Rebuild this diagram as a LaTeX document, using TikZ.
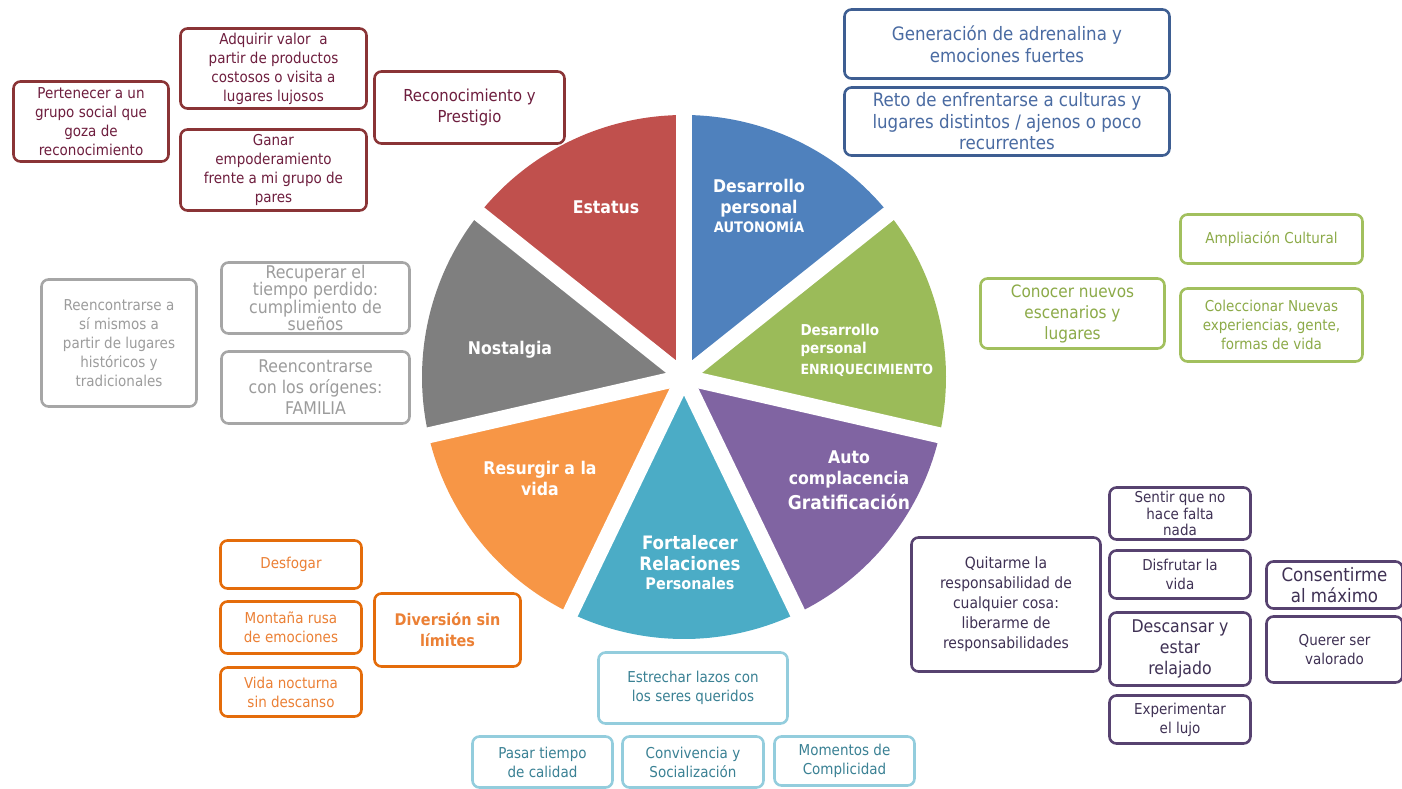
\documentclass[tikz,border=0pt]{standalone}
\usepackage{fontspec}
\setmainfont{DejaVu Sans Condensed}
\usepackage{xcolor}
\usetikzlibrary{positioning}

\definecolor{estred}{HTML}{C0504D}
\definecolor{estline}{HTML}{8A3436}
\definecolor{esttext}{HTML}{6E1E3E}
\definecolor{autblue}{HTML}{4F81BD}
\definecolor{autline}{HTML}{3E5E92}
\definecolor{auttext}{HTML}{4A6BA2}
\definecolor{enrgreen}{HTML}{9BBB59}
\definecolor{enrline}{HTML}{A2C05E}
\definecolor{enrtext}{HTML}{8CAA48}
\definecolor{gratpurple}{HTML}{8064A2}
\definecolor{gratline}{HTML}{574270}
\definecolor{grattext}{HTML}{3F3154}
\definecolor{relcyan}{HTML}{4BACC6}
\definecolor{relline}{HTML}{93CDDD}
\definecolor{reltext}{HTML}{3A8194}
\definecolor{vidaorange}{HTML}{F79646}
\definecolor{vidaline}{HTML}{E46C0A}
\definecolor{vidatext}{HTML}{EB8035}
\definecolor{nosgray}{HTML}{7F7F7F}
\definecolor{nosline}{HTML}{A6A6A6}
\definecolor{nostext}{HTML}{9C9C9C}

\begin{document}
\begin{tikzpicture}[x=1pt, y=-1pt,
  slice/.style={text=white, align=center, font=\bfseries\fontsize{17.5}{21}\selectfont},
  bx/.style={draw=#1, fill=white, rounded corners=7pt, line width=2.6pt, align=center, inner sep=1pt},
  small/.style={font=\fontsize{15}{19}\selectfont},
  big/.style={font=\fontsize{18}{22}\selectfont},
  estbox/.style={bx=estline, text=esttext},
  autbox/.style={bx=autline, text=auttext},
  enrbox/.style={bx=enrline, text=enrtext},
  nosbox/.style={bx=nosline, text=nostext},
  vidabox/.style={bx=vidaline, text=vidatext},
  relbox/.style={bx=relline, text=reltext},
  gratbox/.style={bx=gratline, text=grattext}]
\useasboundingbox (0,0) rectangle (1402,788);

% Pie of motivations
\coordinate (pc) at (684,377);
\foreach \a/\b/\col in {90/141.43/estred, 141.43/192.86/nosgray, 192.86/244.29/vidaorange,
    244.29/295.71/relcyan, 295.71/347.14/gratpurple, 347.14/398.57/enrgreen, 38.57/90/autblue}
  \fill[\col] (pc) -- ++(-\a:262) arc[start angle=-\a, end angle=-\b, radius=262] -- cycle;
% gaps between the slices
\foreach \a in {90,141.43,192.86,244.29,295.71,347.14,38.57}
  \draw[white, line width=16pt] (pc) -- ++(-\a:275);

% Slice labels
\node[slice] (estatus) at (606,207) {Estatus};
\node[slice] (autonomia) at (759,206) {Desarrollo\\personal\\[-2pt]{\fontsize{14.5}{15}\selectfont AUTONOMÍA}};
\node[slice, align=left, anchor=west, font=\bfseries\fontsize{15}{18}\selectfont] (enriq) at (797,350)
  {Desarrollo\\personal\\[3pt]{\fontsize{14}{15}\selectfont ENRIQUECIMIENTO}};
\node[slice] (gratif) at (849,480) {Auto\\complacencia\\[4pt]{\fontsize{19}{22}\selectfont Gratificación}};
\node[slice, font=\bfseries\fontsize{18.5}{21}\selectfont] (relac) at (690,563)
  {Fortalecer\\Relaciones\\[-2pt]{\fontsize{16}{17}\selectfont Personales}};
\node[slice] (resurgir) at (540,478) {Resurgir a la\\vida};
\node[slice] (nostalgia) at (510,350) {Nostalgia};

% Estatus
\node[estbox, small, minimum width=155, minimum height=80] (pert) at (91,121.5)
  {Pertenecer a un\\grupo social que\\goza de\\reconocimiento};
\node[estbox, small, minimum width=186, minimum height=80] (adq) at (273.5,68.5)
  {Adquirir valor\ \ a\\partir de productos\\costosos o visita a\\lugares lujosos};
\node[estbox, small, minimum width=186, minimum height=81] (ganar) at (273.5,170)
  {Ganar\\empoderamiento\\frente a mi grupo de\\pares};
\node[estbox, font=\fontsize{16.5}{21}\selectfont, minimum width=190, minimum height=72] (recon) at (469.5,107.5)
  {Reconocimiento y\\Prestigio};

% Desarrollo personal: autonomia
\node[autbox, font=\fontsize{18.5}{22}\selectfont, minimum width=325, minimum height=69] (gener) at (1007,44)
  {Generación de adrenalina y\\emociones fuertes};
\node[autbox, font=\fontsize{18.5}{21.5}\selectfont, minimum width=325, minimum height=68] (reto) at (1007,121.5)
  {Reto de enfrentarse a culturas y\\lugares distintos / ajenos o poco\\recurrentes};

% Desarrollo personal: enriquecimiento
\node[enrbox, small, minimum width=182, minimum height=49] (ampl) at (1271.5,239) {Ampliación Cultural};
\node[enrbox, font=\fontsize{17}{21}\selectfont, minimum width=184, minimum height=70] (conoc) at (1072.5,313.5)
  {Conocer nuevos\\escenarios y\\lugares};
\node[enrbox, small, minimum width=182, minimum height=73] (colec) at (1271.5,325)
  {Coleccionar Nuevas\\experiencias, gente,\\formas de vida};

% Nostalgia
\node[nosbox, small, minimum width=155, minimum height=127] (reenc) at (119,343)
  {Reencontrarse a\\sí mismos a\\partir de lugares\\históricos y\\tradicionales};
\node[nosbox, font=\fontsize{17.5}{17.3}\selectfont, inner sep=0pt, minimum width=188, minimum height=71] (recup) at (315.5,298)
  {Recuperar el\\tiempo perdido:\\cumplimiento de\\sueños};
\node[nosbox, font=\fontsize{17.5}{21}\selectfont, minimum width=188, minimum height=72] (orig) at (315.5,387.5)
  {Reencontrarse\\con los orígenes:\\FAMILIA};

% Resurgir a la vida
\node[vidabox, small, minimum width=141, minimum height=48] (desf) at (291,564.5) {Desfogar};
\node[vidabox, small, minimum width=141, minimum height=52] (montana) at (291,627.5)
  {Montaña rusa\\de emociones};
\node[vidabox, small, minimum width=141, minimum height=49] (noct) at (291,692)
  {Vida nocturna\\sin descanso};
\node[vidabox, font=\bfseries\fontsize{16}{21}\selectfont, minimum width=146, minimum height=73] (divers) at (447.5,630)
  {Diversión sin\\límites};

% Fortalecer relaciones personales
\node[relbox, small, minimum width=189, minimum height=71] (estre) at (693,688)
  {Estrechar lazos con\\los seres queridos};
\node[relbox, small, minimum width=140, minimum height=51] (pasar) at (542.5,762)
  {Pasar tiempo\\de calidad};
\node[relbox, small, minimum width=141, minimum height=51] (conviv) at (693,762)
  {Convivencia y\\Socialización};
\node[relbox, small, minimum width=140, minimum height=49] (momen) at (844.5,761)
  {Momentos de\\Complicidad};

% Auto complacencia
\node[gratbox, font=\fontsize{15.5}{20}\selectfont, minimum width=189, minimum height=134] (quitar) at (1006,604.5)
  {Quitarme la\\responsabilidad de\\cualquier cosa:\\liberarme de\\responsabilidades};
\node[gratbox, font=\fontsize{15}{16.5}\selectfont, inner sep=0pt, minimum width=141, minimum height=52] (sentir) at (1180,513.5)
  {Sentir que no\\hace falta\\nada};
\node[gratbox, small, minimum width=141, minimum height=48] (disfr) at (1180,574.5)
  {Disfrutar la\\vida};
\node[gratbox, font=\fontsize{17.5}{21}\selectfont, minimum width=141, minimum height=73] (descan) at (1180,649)
  {Descansar y\\estar\\relajado};
\node[gratbox, small, minimum width=141, minimum height=48] (exper) at (1180,719.5)
  {Experimentar\\el lujo};
\node[gratbox, font=\fontsize{18.5}{21}\selectfont, minimum width=136, minimum height=47] (consen) at (1334.5,585)
  {Consentirme\\al máximo};
\node[gratbox, small, minimum width=136, minimum height=66] (querer) at (1334.5,649.5)
  {Querer ser\\valorado};
\end{tikzpicture}
\end{document}
